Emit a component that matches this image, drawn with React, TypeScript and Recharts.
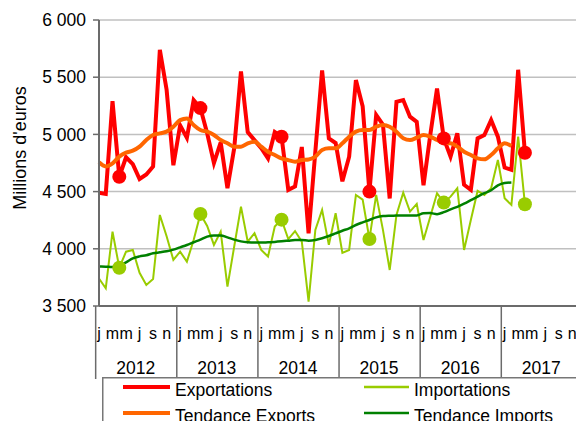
import React from 'react';
import { ComposedChart, Line, XAxis, YAxis, CartesianGrid, Legend } from 'recharts';

const years = ['2012', '2013', '2014', '2015', '2016', '2017'];
const monthLetters = ['j', 'f', 'm', 'a', 'm', 'j', 'j', 'a', 's', 'o', 'n', 'd'];
const yTicks = [3500, 4000, 4500, 5000, 5500, 6000];

const exportsData = [
  4490, 4480, 5290, 4630, 4800, 4740, 4610, 4650, 4720, 5740, 5390, 4730,
  5080, 4970, 5300, 5230, 5010, 4750, 4930, 4530, 4880, 5550, 5020, 4950,
  4880, 4790, 5020, 4980, 4515, 4545, 4890, 4135, 4850, 5560, 4965, 4925,
  4590, 4805, 5475, 5245, 4500, 5170, 5085, 4440, 5285, 5300, 5155, 5110,
  4555, 4995, 5400, 4965, 4805, 5010, 4560, 4515, 4965, 4995, 5125, 4980,
  4710, 4690, 5565, 4840,
];

const importsData = [
  3740, 3655, 4150, 3835, 3975, 3990, 3790, 3684, 3735, 4296, 4110, 3903,
  3975, 3888, 4077, 4305, 4200, 4034, 4150, 3669, 4020, 4369, 4063, 4136,
  3990, 3932, 4194, 4255, 4085, 4155, 4063, 3538, 4165, 4340, 4034, 4311,
  3965, 3990, 4470, 4430, 4086, 4471, 4165, 3815, 4296, 4491, 4325, 4392,
  4077, 4281, 4486, 4404, 4456, 4529, 3990, 4252, 4506, 4471, 4529, 4777,
  4442, 4384, 4981, 4390,
];

const exportsTrend = [
  4756, 4720, 4747, 4806, 4840, 4858, 4893, 4951, 4995, 5009, 5024, 5067,
  5125, 5140, 5082, 5038, 5024, 4995, 4951, 4922, 4893, 4893, 4922, 4936,
  4893, 4849, 4820, 4791, 4775, 4762, 4776, 4780, 4806, 4864, 4878, 4878,
  4922, 4980, 5024, 5038, 5038, 5067, 5082, 5067, 5024, 4966, 4951, 4971,
  4995, 4980, 4951, 4928, 4922, 4893, 4849, 4820, 4791, 4782, 4820, 4878,
  4922, 4899,
];

const importsTrend = [
  3846, 3844, 3841, 3856, 3882, 3917, 3934, 3943, 3961, 3969, 3978, 3993,
  4013, 4033, 4057, 4080, 4106, 4117, 4117, 4100, 4080, 4065, 4057, 4054,
  4054, 4057, 4060, 4065, 4071, 4077, 4077, 4071, 4077, 4092, 4112, 4135,
  4158, 4179, 4208, 4231, 4252, 4275, 4286, 4289, 4290, 4292, 4290, 4292,
  4310, 4312, 4303, 4320, 4345, 4367, 4394, 4425, 4456, 4486, 4512, 4555,
  4575, 4580,
];

const markerIdx = [3, 15, 27, 40, 51, 63];

const FONT = "'Liberation Sans', Arial, sans-serif";
const AXIS = '#6b6b6b';
const RED = '#FF0000';
const LGREEN = '#99CC00';
const ORANGE = '#FF6600';
const DGREEN = '#008000';

const data = years.flatMap((yr, yi) =>
  monthLetters.map((ml, mi) => {
    const i = yi * 12 + mi;
    return {
      cat: `${yr}-${mi + 1}`,
      exp: exportsData[i],
      imp: importsData[i],
      expT: exportsTrend[i],
      impT: importsTrend[i],
      expM: markerIdx.includes(i) ? exportsData[i] : undefined,
      impM: markerIdx.includes(i) ? importsData[i] : undefined,
    };
  })
);

const fmt = (v: number) => `${Math.floor(v / 1000)} ${String(v % 1000).padStart(3, '0')}`;

const renderMonthTick = (props: any) => {
  const { x, y, payload, index, width } = props;
  const half =
    payload && typeof payload.offset === 'number' && payload.offset > 0
      ? payload.offset
      : width / data.length / 2;
  const m = index % 12;
  const yi = Math.floor(index / 12);
  const left = x - half;
  return (
    <g>
      {m === 0 && (
        <line x1={left} x2={left} y1={y} y2={y + (index === 0 ? 73 : 71)} stroke={AXIS} strokeWidth={1.5} />
      )}
      {m % 2 === 0 && (
        <text x={x} y={y + 33} textAnchor="middle" fontSize={16} fontFamily={FONT} fill="#000">
          {monthLetters[m]}
        </text>
      )}
      {m === 0 && (
        <text x={left + half * 12} y={y + 68} textAnchor="middle" fontSize={17.5} fontFamily={FONT} fill="#000">
          {years[yi]}
        </text>
      )}
    </g>
  );
};

const YLabel = (props: any) => {
  const vb = props.viewBox || { x: 0, y: 20, width: 99, height: 286 };
  const cx = vb.x + 20;
  const cy = vb.y + vb.height / 2 - 15;
  return (
    <text
      x={cx}
      y={cy}
      transform={`rotate(-90, ${cx}, ${cy})`}
      textAnchor="middle"
      dominantBaseline="central"
      fontSize={18}
      fontFamily={FONT}
      fill="#000"
    >
      Millions d'euros
    </text>
  );
};

const legendItems = [
  { name: 'Exportations', color: RED, w: 4 },
  { name: 'Importations', color: LGREEN, w: 2.5 },
  { name: 'Tendance Exports', color: ORANGE, w: 4 },
  { name: 'Tendance Imports', color: DGREEN, w: 2.5 },
];

const renderLegend = () => {
  const cols = [
    { sx: 21, sw: 47, tx: 73 },
    { sx: 262, sw: 45, tx: 312 },
  ];
  return (
    <svg width={520} height={60} style={{ display: 'block' }}>
      <rect x={0.75} y={0.75} width={518} height={58} fill="#fff" stroke="#777" strokeWidth={1.5} />
      {legendItems.map((it, k) => {
        const c = cols[k % 2];
        const row = Math.floor(k / 2);
        const ly = 10 + row * 26;
        return (
          <g key={it.name}>
            <line x1={c.sx} x2={c.sx + c.sw} y1={ly} y2={ly} stroke={it.color} strokeWidth={it.w} />
            <text x={c.tx} y={ly + 9} fontSize={17.5} fontFamily={FONT} fill="#000">
              {it.name}
            </text>
          </g>
        );
      })}
    </svg>
  );
};

export default function App() {
  return (
    <div
      style={{
        position: 'fixed',
        left: 0,
        top: 0,
        width: 576,
        height: 421,
        overflow: 'hidden',
        background: '#fff',
      }}
    >
      <ComposedChart
        width={600}
        height={421}
        data={data}
        margin={{ top: 20, right: 21, bottom: 35, left: 0 }}
      >
        <CartesianGrid vertical={false} stroke="#c0c0c0" strokeWidth={1.5} />
        <XAxis
          dataKey="cat"
          type="category"
          interval={0}
          height={80}
          tickSize={0}
          tickMargin={0}
          tickLine={false}
          axisLine={{ stroke: AXIS, strokeWidth: 2 }}
          tick={renderMonthTick}
        />
        <YAxis
          width={99}
          domain={[3500, 6000]}
          ticks={yTicks}
          interval={0}
          tickFormatter={fmt}
          tickSize={6}
          tickMargin={7}
          tickLine={{ stroke: AXIS, strokeWidth: 1.5 }}
          axisLine={{ stroke: AXIS, strokeWidth: 2 }}
          tick={{ fontSize: 17.5, fill: '#000', fontFamily: FONT }}
          label={<YLabel />}
        />
        <Line
          name="Exportations"
          dataKey="exp"
          type="linear"
          stroke={RED}
          strokeWidth={4}
          dot={false}
          activeDot={false}
          isAnimationActive={false}
        />
        <Line
          name="Importations"
          dataKey="imp"
          type="linear"
          stroke={LGREEN}
          strokeWidth={2}
          dot={false}
          activeDot={false}
          isAnimationActive={false}
        />
        <Line
          name="Tendance Exports"
          dataKey="expT"
          type="monotone"
          stroke={ORANGE}
          strokeWidth={4}
          dot={false}
          activeDot={false}
          isAnimationActive={false}
        />
        <Line
          name="Tendance Imports"
          dataKey="impT"
          type="monotone"
          stroke={DGREEN}
          strokeWidth={2.5}
          dot={false}
          activeDot={false}
          isAnimationActive={false}
        />
        <Line
          dataKey="expM"
          stroke="none"
          legendType="none"
          dot={{ r: 7, fill: RED, stroke: 'none' }}
          activeDot={false}
          isAnimationActive={false}
        />
        <Line
          dataKey="impM"
          stroke="none"
          legendType="none"
          dot={{ r: 7, fill: LGREEN, stroke: 'none' }}
          activeDot={false}
          isAnimationActive={false}
        />
        <Legend
          layout="horizontal"
          verticalAlign="middle"
          align="center"
          wrapperStyle={{ position: 'absolute', left: 102, top: 377, width: 520, height: 60 }}
          content={renderLegend}
        />
      </ComposedChart>
    </div>
  );
}
